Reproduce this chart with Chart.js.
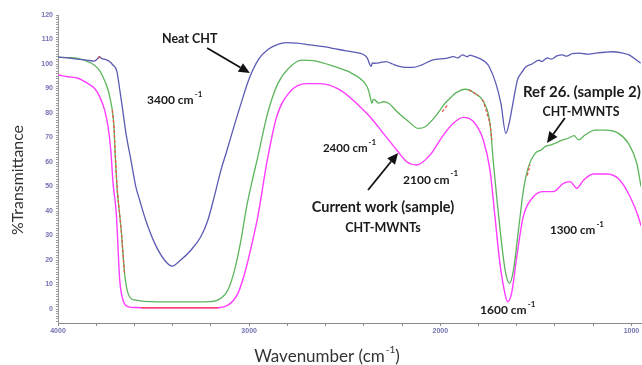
<!DOCTYPE html>
<html>
<head>
<meta charset="utf-8">
<script src="https://cdn.jsdelivr.net/npm/chart.js@4/dist/chart.umd.min.js"></script>
<style>
html,body{margin:0;padding:0;background:#fff;}
#wrap{width:642px;height:365px;}
</style>
</head>
<body>
<div id="wrap"><canvas id="c" width="642" height="365"></canvas></div>
<script>
// ---- Data (wavenumber, %T) ----
const wnBlue = [4000,3950,3900,3850,3810,3795,3785,3770,3750,3730,3713,3692,3676,3661,3645,3619,3593,3573,3540,3495,3443,3403,3358,3305,3253,3217,3182,3150,3119,3085,3050,3000,2950,2900,2850,2806,2750,2684,2600,2564,2500,2423,2395,2381,2370,2362,2355,2345,2318,2284,2250,2214,2180,2146,2100,2042,1970,1930,1910,1884,1860,1845,1831,1800,1779,1760,1744,1709,1683,1657,1640,1614,1596,1575,1552,1520,1483,1470,1440,1420,1390,1361,1340,1310,1274,1230,1187,1140,1100,1050,1013,980,952];
const tBlue  = [102.8,102.5,102.0,101.6,101.2,102.0,103.0,102.2,101.8,101.0,99.6,97.0,89.0,81.0,72.0,61.0,50.0,44.5,36.0,27.0,20.0,17.5,20.0,24.0,29.5,36.0,46.0,56.0,64.0,73.0,82.0,94.0,102.0,106.0,108.0,108.7,108.5,107.8,107.0,106.4,105.5,104.4,103.5,102.3,100.0,99.0,100.5,100.3,100.5,101.0,100.0,99.0,98.6,98.6,99.5,101.6,102.3,103.0,102.5,103.7,103.0,103.6,103.3,102.4,101.6,100.5,98.9,92.0,84.0,71.7,75.8,86.6,93.5,96.5,98.9,100.0,101.6,101.0,102.5,102.0,103.3,103.7,103.2,104.2,104.4,104.0,104.4,104.8,105.0,104.5,103.7,102.0,100.3];

const wnGreen = [4000,3950,3895,3826,3791,3765,3738,3724,3716,3707,3700,3690,3669,3652,3634,3600,3478,3305,3200,3148,3111,3076,3043,3015,2985,2955,2903,2850,2794,2725,2656,2552,2463,2393,2376,2367,2358,2350,2341,2323,2297,2271,2219,2166,2114,2079,2027,1975,1940,1922,1870,1818,1774,1740,1722,1705,1687,1661,1638,1617,1591,1565,1539,1504,1470,1452,1420,1400,1360,1330,1300,1277,1243,1190,1138,1068,1016,972,950];
const tGreen  = [102.8,102.6,102.3,100.3,98.2,94.8,89.4,84.6,81.2,74.4,62.0,48.6,32.0,14.7,6.5,3.7,2.9,2.9,3.0,4.4,7.8,16.0,28.0,41.0,52.0,62.0,80.0,92.0,98.2,101.6,101.3,98.9,96.2,92.0,89.4,86.7,84.0,85.6,85.3,84.0,84.6,84.0,80.0,76.5,73.7,74.4,78.5,84.0,86.7,88.0,89.7,88.0,84.6,75.8,59.5,45.8,32.2,16.0,10.5,16.0,32.2,48.6,58.0,63.5,65.0,66.3,67.0,67.6,69.0,69.7,70.8,69.0,71.0,73.0,73.0,71.7,67.6,59.5,50.0];

const wnMag = [4000,3948,3895,3843,3808,3782,3756,3738,3724,3712,3695,3677,3660,3634,3600,3477,3180,3111,3058,3023,2989,2954,2908,2856,2786,2699,2629,2525,2420,2368,2298,2228,2176,2124,2054,1984,1932,1880,1827,1775,1740,1714,1688,1662,1648,1627,1600,1566,1513,1461,1409,1356,1321,1286,1251,1199,1129,1060,1007,964,950];
const tMag  = [95.5,94.8,94.2,92.0,90.0,86.7,81.2,74.4,65.0,51.4,39.0,11.8,3.7,1.0,0.6,0.5,0.5,1.6,6.5,14.7,25.4,38.0,59.5,78.5,88.7,92.0,92.0,89.4,82.6,78.5,71.7,64.9,60.1,58.8,62.8,71.0,75.8,78.2,76.5,69.0,56.7,37.7,18.6,6.4,3.0,6.4,21.3,37.7,45.8,47.9,47.9,51.3,52.0,49.3,52.6,55.1,55.1,52.6,45.8,37.7,34.0];

// red overlay fragments (same readings, where a red trace is visible)
const wnRedDash = [3790,3778,null,3716,3707,3700,3690,3669,3652,null,1990,1960,null,1850,1800,null,1780,1774,1740,1730,null,1545,1530];
const tRedDash  = [102.2,103.0,null,81.2,74.4,62.0,48.6,32.0,14.7,null,80.5,83.5,null,89.5,87.0,null,85.5,84.6,75.8,69.0,null,54.5,59.0];
const wnRedFloor = [3566,3400,3163];
const tRedFloor  = [0.5,0.5,0.5];

// axis ticks
const xTickLabels = [4000,3000,2000,1000];
const yTickLabels = [0,10,20,30,40,50,60,70,80,90,100,110,120];

// annotations (data coordinates)
const notes = [
  {text:'Neat CHT', sup:'', wn:3456, v:110.2, align:'left', size:12.5},
  {text:'3400 cm', sup:'-1', wn:3534, v:85.3, align:'left', size:12},
  {text:'2400 cm', sup:'-1', wn:2614, v:65.7, align:'left', size:11.5},
  {text:'2100 cm', sup:'-1', wn:2195, v:52.7, align:'left', size:12},
  {text:'Current work (sample)', sup:'', wn:2300, v:41.6, align:'center', size:14.5},
  {text:'CHT-MWNTs', sup:'', wn:2300, v:33.0, align:'center', size:12.5},
  {text:'Ref 26. (sample 2)', sup:'', wn:1259, v:88.6, align:'center', size:15},
  {text:'CHT-MWNTS', sup:'', wn:1264, v:80.4, align:'center', size:12.3},
  {text:'1300 cm', sup:'-1', wn:1426, v:32.2, align:'left', size:11.7},
  {text:'1600 cm', sup:'-1', wn:1792, v:-0.4, align:'left', size:12}
];
const arrows = [
  {from:[3220,106.5], to:[2996,96.3]},
  {from:[2378,48.6], to:[2221,63.7]},
  {from:[1348,78.0], to:[1442,67.8]}
];

function pts(xs, ys){ return xs.map((x,i)=> x===null ? {x:NaN, y:null} : {x:x, y:ys[i]}); }

function fitText(ctx, txt, x, y, target){
  const w = ctx.measureText(txt).width;
  ctx.save(); ctx.translate(x, y); ctx.scale(target / w, 1);
  ctx.textAlign = 'left'; ctx.fillText(txt, 0, 0); ctx.restore();
}

const annotPlugin = {
  id:'annot',
  afterDatasetsDraw(chart){
    const ctx = chart.ctx, xs = chart.scales.x, ys = chart.scales.y;
    ctx.save();
    // arrows
    ctx.strokeStyle = '#111'; ctx.fillStyle = '#111'; ctx.lineWidth = 1.8;
    arrows.forEach(a=>{
      const x1 = xs.getPixelForValue(a.from[0]), y1 = ys.getPixelForValue(a.from[1]);
      const x2 = xs.getPixelForValue(a.to[0]),   y2 = ys.getPixelForValue(a.to[1]);
      const ang = Math.atan2(y2-y1, x2-x1), hl = 11, hw = 5;
      const bx = x2 - hl*Math.cos(ang), by = y2 - hl*Math.sin(ang);
      ctx.beginPath(); ctx.moveTo(x1,y1); ctx.lineTo(bx,by); ctx.stroke();
      ctx.beginPath();
      ctx.moveTo(x2,y2);
      ctx.lineTo(bx + hw*Math.sin(ang), by - hw*Math.cos(ang));
      ctx.lineTo(bx - hw*Math.sin(ang), by + hw*Math.cos(ang));
      ctx.closePath(); ctx.fill();
    });
    // notes
    ctx.fillStyle = '#1a1a1a'; ctx.textBaseline = 'middle'; ctx.textAlign = 'left';
    notes.forEach(n=>{
      const mainFont = 'bold ' + n.size + 'px Lato', supFont = 'bold 8px Lato';
      ctx.font = mainFont; const w1 = ctx.measureText(n.text).width;
      ctx.font = supFont; const w2 = n.sup ? ctx.measureText(n.sup).width + 1 : 0;
      let px = xs.getPixelForValue(n.wn); const py = ys.getPixelForValue(n.v);
      if (n.align === 'center') px -= (w1 + w2)/2;
      ctx.font = mainFont; ctx.fillText(n.text, px, py);
      if (n.sup){ ctx.font = supFont; ctx.fillText(n.sup, px + w1 + 1, py - 6); }
    });
    // axis titles
    ctx.fillStyle = '#333';
    const tf = '17px Lato', sf = '10px Lato';
    ctx.font = tf; const a1 = ctx.measureText('Wavenumber (cm').width, a3 = ctx.measureText(')').width;
    ctx.font = sf; const a2 = ctx.measureText('-1').width + 1;
    let sx = 327 - (a1+a2+a3)/2; const sy = 357;
    ctx.font = tf; ctx.fillText('Wavenumber (cm', sx, sy);
    ctx.font = sf; ctx.fillText('-1', sx + a1 + 1, sy - 7);
    ctx.font = tf; ctx.fillText(')', sx + a1 + a2, sy);
    ctx.translate(18, 180); ctx.rotate(-Math.PI/2);
    ctx.font = '16px Lato';
    fitText(ctx, '%Transmittance', -55, 0, 110);
    ctx.restore();
  }
};

const tickColor = '#7272b0';
new Chart(document.getElementById('c'), {
  type:'line',
  data:{
    datasets:[
      {label:'overlay', data:pts(wnRedDash,tRedDash), borderColor:'#e8554a', borderWidth:1.3, borderDash:[3,2], pointRadius:0, spanGaps:false, tension:0},
      {label:'overlay floor', data:pts(wnRedFloor,tRedFloor), borderColor:'#ff4468', borderWidth:1.6, pointRadius:0, tension:0},
      {label:'Neat CHT', data:pts(wnBlue,tBlue), borderColor:'#5b5bb4', borderWidth:1.3, pointRadius:0, cubicInterpolationMode:'monotone'},
      {label:'Ref 26. (sample 2) CHT-MWNTS', data:pts(wnGreen,tGreen), borderColor:'#5cb45c', borderWidth:1.3, pointRadius:0, cubicInterpolationMode:'monotone'},
      {label:'Current work (sample) CHT-MWNTs', data:pts(wnMag,tMag), borderColor:'#ff3cff', borderWidth:1.4, pointRadius:0, cubicInterpolationMode:'monotone'}
    ]
  },
  options:{
    responsive:false, animation:false, devicePixelRatio:1,
    layout:{padding:{top:15,right:1,left:0,bottom:0}},
    plugins:{legend:{display:false}, tooltip:{enabled:false}},
    scales:{
      x:{type:'linear', reverse:true, min:950, max:4000,
         afterFit(s){ s.height = 42; },
         ticks:{stepSize:200, includeBounds:false, autoSkip:false, maxRotation:0, padding:1,
                color:tickColor, font:{size:7, family:'Liberation Sans', weight:'bold'},
                callback:v=> xTickLabels.includes(Math.round(v)) ? String(Math.round(v)) : ''},
         grid:{drawOnChartArea:false, tickLength:3, color:'#8a8a8a'},
         border:{color:'#8a8a8a', width:1}},
      y:{type:'linear', min:-5.7, max:120,
         afterFit(s){ s.width = 58; },
         ticks:{stepSize:1, includeBounds:false, autoSkip:false, padding:3,
                color:tickColor, font:{size:7, family:'Liberation Sans', weight:'bold'},
                callback:v=> yTickLabels.includes(Math.round(v)) && Math.abs(v-Math.round(v))<1e-6 ? String(Math.round(v)) : ''},
         grid:{drawOnChartArea:false, tickLength:2, color:'#9a9a9a'},
         border:{color:'#9a9a9a', width:1}}
    }
  },
  plugins:[annotPlugin]
});
</script>
</body>
</html>
